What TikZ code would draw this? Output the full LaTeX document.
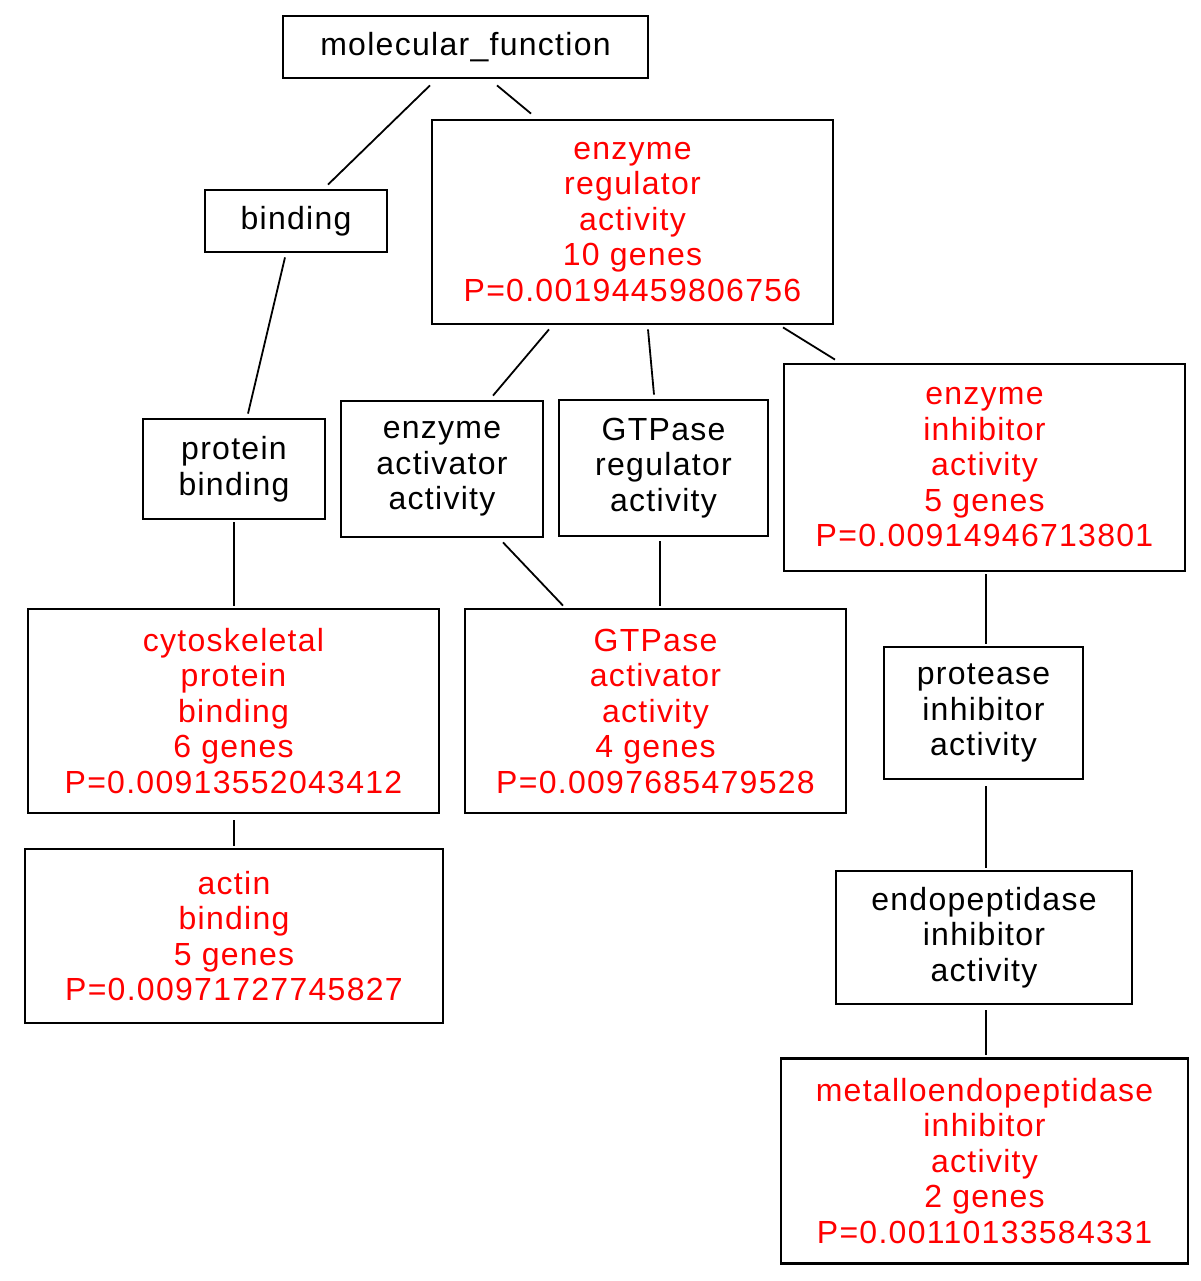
\documentclass[tikz,border=0pt]{standalone}
\usepackage{fontspec}
\setmainfont[LetterSpace=4]{Liberation Sans}
\usetikzlibrary{calc}
\definecolor{termred}{RGB}{255,0,0}
\begin{document}
\begin{tikzpicture}[x=1pt,y=-1pt,
  box/.style={draw=black,line width=2.8pt,inner sep=0pt,align=center,
    font=\fontsize{32}{35.5}\selectfont},
  hit/.style={box,text=termred},
  plain/.style={box,text=black},
  edge/.style={draw=black,line width=1.8pt}]
\useasboundingbox[fill=white] (0,0) rectangle (1200,1281);
\node[plain,minimum width=365pt,minimum height=62pt] (mf) at (465.5,47) {molecular\_function};
\node[plain,minimum width=182pt,minimum height=62pt] (bind) at (296,221) {binding};
\node[hit,minimum width=401pt,minimum height=204pt] (ereg) at (632.5,222) {enzyme\\regulator\\activity\\10 genes\\P=0.00194459806756};
\node[plain,minimum width=182pt,minimum height=100pt] (pbind) at (234,469) {protein\\binding};
\node[plain,minimum width=202pt,minimum height=136pt] (eact) at (442,469) {enzyme\\activator\\activity};
\node[plain,minimum width=209pt,minimum height=136pt] (greg) at (663.5,468) {GTPase\\regulator\\activity};
\node[hit,minimum width=401pt,minimum height=207pt] (einh) at (984.5,467.5) {enzyme\\inhibitor\\activity\\5 genes\\P=0.00914946713801};
\node[hit,minimum width=411pt,minimum height=204pt] (cyto) at (233.5,711) {cytoskeletal\\protein\\binding\\6 genes\\P=0.00913552043412};
\node[hit,minimum width=381pt,minimum height=204pt] (gact) at (655.5,711) {GTPase\\activator\\activity\\4 genes\\P=0.0097685479528};
\node[plain,minimum width=199pt,minimum height=132pt] (prot) at (983.5,713) {protease\\inhibitor\\activity};
\node[hit,minimum width=418pt,minimum height=174pt] (actin) at (234,936) {actin\\binding\\5 genes\\P=0.00971727745827};
\node[plain,minimum width=296pt,minimum height=133pt] (endo) at (984,937.5) {endopeptidase\\inhibitor\\activity};
\node[hit,minimum width=407pt,minimum height=205pt] (metal) at (984.5,1161) {metalloendopeptidase\\inhibitor\\activity\\2 genes\\P=0.00110133584331};
% connectors
\draw[edge] ($(mf.south)+(-35.5,6)$) -- ($(bind.north)+(32,-4)$);
\draw[edge] ($(mf.south)+(31.5,6)$) -- ($(ereg.north)+(-101.5,-5)$);
\draw[edge] ($(bind.south)+(-11,4)$) -- ($(pbind.north)+(14,-4)$);
\draw[edge] ($(ereg.south)+(-83.5,4)$) -- ($(eact.north)+(51,-4)$);
\draw[edge] ($(ereg.south)+(15.5,4)$) -- ($(greg.north)+(-9.5,-4)$);
\draw[edge] ($(ereg.south)+(150.5,2)$) -- ($(einh.north)+(-149.5,-3)$);
\draw[edge] ($(pbind.south)+(0,2)$) -- ($(cyto.north)+(0.5,-2)$);
\draw[edge] ($(eact.south)+(61,4)$) -- ($(gact.north)+(-92.5,-2)$);
\draw[edge] ($(greg.south)+(-3.5,4)$) -- ($(gact.north)+(4.5,-2)$);
\draw[edge] ($(einh.south)+(1.5,2)$) -- ($(prot.north)+(2.5,-2)$);
\draw[edge] ($(cyto.south)+(0.5,6)$) -- ($(actin.north)+(0,-2)$);
\draw[edge] ($(prot.south)+(2.5,6)$) -- ($(endo.north)+(2,-2)$);
\draw[edge] ($(endo.south)+(2,5)$) -- ($(metal.north)+(1.5,-2)$);
\end{tikzpicture}
\end{document}
